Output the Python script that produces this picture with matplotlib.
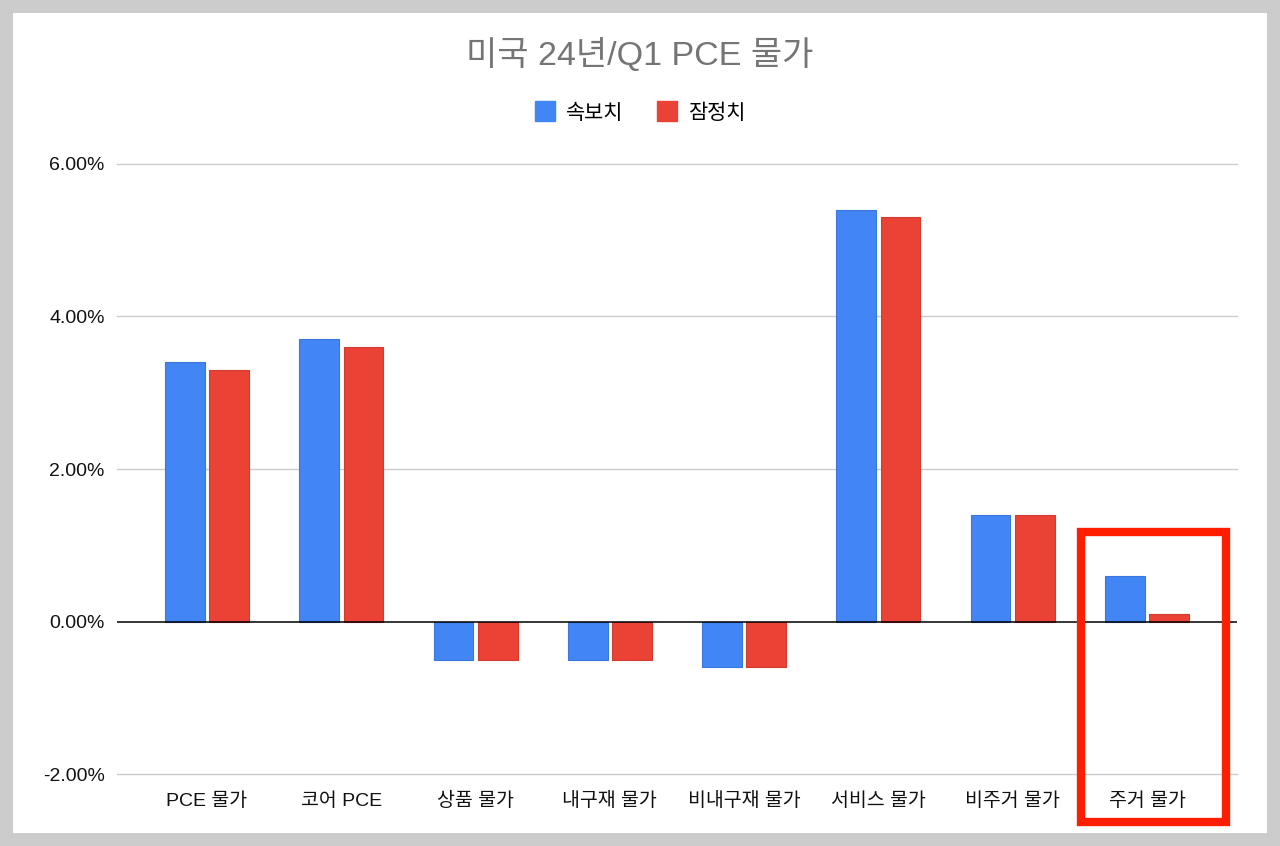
import numpy as np
import matplotlib.pyplot as plt
from matplotlib.patches import Rectangle
from matplotlib.lines import Line2D

plt.rcParams['font.family'] = ['Liberation Sans', 'Noto Sans CJK KR', 'DejaVu Sans']

# 데이터
categories = ['PCE 물가', '코어 PCE', '상품 물가', '내구재 물가', '비내구재 물가',
              '서비스 물가', '비주거 물가', '주거 물가']
flash = [3.4, 3.7, -0.5, -0.5, -0.6, 5.4, 1.4, 0.6]     # 속보치
prelim = [3.3, 3.6, -0.5, -0.5, -0.6, 5.3, 1.4, 0.1]    # 잠정치
series_names = ['속보치', '잠정치']
yticks = [-2, 0, 2, 4, 6]

blue = '#4285F4'
red = '#EA4335'

W, H = 1280, 846
fig = plt.figure(figsize=(W / 100, H / 100), dpi=100)
fig.patch.set_facecolor('#cccccc')
fig.patches.append(Rectangle((13 / W, 13 / H), (W - 26) / W, (H - 26) / H,
                             transform=fig.transFigure, facecolor='white',
                             edgecolor='none', zorder=-5))

ax = fig.add_axes([117 / W, 1 - 774 / H, (1237 - 117) / W, (774 - 164) / H])
ax.set_facecolor('none')

x = np.arange(len(categories))
bw = 0.295
ax.bar(x - 0.165, flash, bw, color=blue, edgecolor='#3a76db', linewidth=0.8, zorder=3)
ax.bar(x + 0.165, prelim, bw, color=red, edgecolor='#d13a2e', linewidth=0.8, zorder=3)

ax.set_xlim(-0.67, len(categories) - 0.33)
ax.set_ylim(-2, 6)
ax.set_yticks(yticks)
ax.set_yticklabels([f'{v:.2f}%' for v in yticks])
ax.set_xticks(x)
ax.set_xticklabels(categories)
ax.tick_params(axis='both', length=0, labelsize=14, colors='#111111')
ax.tick_params(axis='y', pad=9)
ax.tick_params(axis='x', pad=13)
for g in yticks:
    if g != 0:
        ax.axhline(g, color='#cccccc', linewidth=1, zorder=0, clip_on=False)
ax.axhline(0, color='black', linewidth=1.1, zorder=4)
for s in ax.spines.values():
    s.set_visible(False)

fig.text(0.5, 1 - 55 / H, '미국 24년/Q1 PCE 물가', ha='center', va='center',
         fontsize=24.5, color='#757575')

handles = [Line2D([], [], marker='s', linestyle='none', markersize=14,
                  markerfacecolor=c, markeredgecolor=c) for c in (blue, red)]
fig.legend(handles, series_names, loc='center', bbox_to_anchor=(0.5, 1 - 113 / H),
           ncol=2, frameon=False, fontsize=15, handletextpad=0.5, columnspacing=1.6,
           handlelength=1.0)

# 강조 박스 (주거 물가)
fig.patches.append(Rectangle((1081 / W, 1 - 822 / H), (1226 - 1081) / W, (822 - 532) / H,
                             transform=fig.transFigure, facecolor='none',
                             edgecolor='#ff1f00', linewidth=6, zorder=10))

fig.savefig('out.png', dpi=100, facecolor=fig.get_facecolor())
